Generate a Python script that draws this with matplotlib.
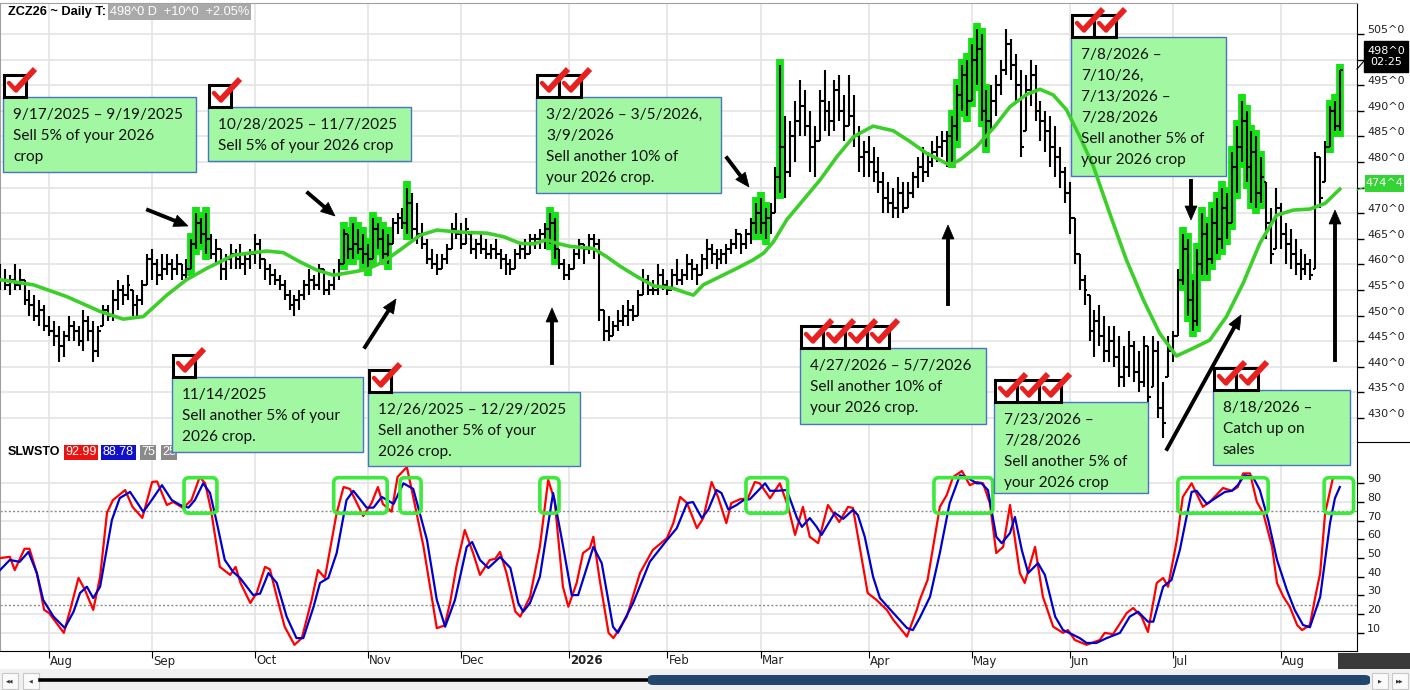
import matplotlib
matplotlib.use("Agg")
import numpy as np
import matplotlib.pyplot as plt
from matplotlib.collections import LineCollection
from matplotlib.patches import Rectangle, Polygon, FancyBboxPatch
from matplotlib.lines import Line2D
from matplotlib.transforms import blended_transform_factory, offset_copy

W, H = 1410, 690

# daily bars, Jul 18 2025 .. Aug 19 2026 (index = trading day)
highs = [460, 459, 458, 460, 459, 457, 455, 454, 453, 452,
         450, 449, 448, 447, 450, 449, 448, 451, 450, 449,
         448, 452, 452, 455, 457, 456, 458, 455, 454, 457,
         462, 463, 461, 462, 462, 461, 462, 460, 461, 465,
         470, 469, 470, 466, 465, 463, 462, 464, 463, 464,
         462, 463, 466, 465, 461, 460, 459, 458, 457, 455,
         454, 455, 457, 459, 458, 460, 459, 457, 459, 461,
         467, 466, 468, 467, 466, 464, 469, 468, 467, 466,
         469, 470, 471, 475, 474, 472, 468, 465, 463, 462,
         462, 464, 468, 470, 468, 469, 466, 465, 466, 465,
         464, 465, 463, 462, 461, 463, 464, 465, 466, 466,
         467, 468, 470, 469, 463, 461, 460, 463, 465, 464,
         466, 466, 465, 451, 450, 449, 451, 452, 453, 452,
         455, 459, 458, 457, 460, 459, 457, 459, 461, 459,
         462, 461, 460, 462, 465, 464, 463, 463, 464, 465,
         467, 466, 467, 469, 472, 473, 471, 472, 479, 499,
         489, 488, 492, 496, 494, 490, 487, 494, 498, 492,
         496, 497, 493, 497, 493, 487, 484, 485, 483, 481,
         478, 476, 475, 477, 476, 476, 478, 481, 483, 482,
         484, 485, 486, 486, 489, 495, 499, 500, 503, 506,
         505, 494, 495, 497, 500, 506, 504, 501, 498, 497,
         500, 499, 492, 490, 489, 487, 483, 479, 476, 469,
         462, 458, 454, 451, 452, 450, 448, 448, 446, 444,
         447, 445, 443, 446, 444, 446, 445, 437, 446, 447,
         459, 466, 465, 457, 463, 470, 468, 471, 473, 475,
         474, 482, 487, 492, 490, 486, 485, 481, 476, 471,
         475, 472, 468, 467, 465, 463, 462, 461, 482, 481,
         484, 491, 492, 498]
lows = [455, 455, 454, 455, 455, 452, 450, 449, 448, 447,
        446, 444, 441, 442, 445, 445, 444, 443, 445, 441,
        442, 448, 449, 449, 451, 452, 453, 450, 450, 452,
        456, 457, 456, 457, 458, 457, 458, 457, 457, 459,
        463, 464, 462, 461, 460, 457, 457, 459, 459, 459,
        458, 459, 460, 459, 457, 456, 456, 455, 453, 451,
        450, 451, 453, 454, 455, 455, 454, 454, 455, 457,
        460, 461, 461, 462, 460, 459, 461, 463, 461, 460,
        464, 466, 467, 466, 465, 464, 463, 460, 459, 458,
        459, 460, 463, 465, 463, 464, 462, 461, 462, 461,
        461, 461, 459, 458, 458, 459, 461, 461, 462, 463,
        463, 463, 464, 461, 459, 457, 457, 459, 461, 460,
        462, 461, 449, 445, 445, 446, 447, 448, 448, 449,
        450, 454, 454, 454, 454, 455, 454, 455, 456, 456,
        457, 457, 456, 458, 459, 460, 459, 460, 460, 462,
        463, 462, 463, 464, 466, 466, 465, 466, 470, 474,
        473, 477, 480, 485, 485, 478, 477, 484, 486, 485,
        486, 488, 484, 487, 483, 478, 477, 477, 476, 474,
        470, 470, 469, 469, 470, 471, 473, 475, 476, 477,
        479, 480, 481, 479, 480, 484, 490, 489, 492, 495,
        488, 483, 486, 489, 493, 497, 496, 492, 481, 486,
        491, 488, 484, 482, 479, 477, 475, 472, 466, 460,
        455, 452, 445, 442, 444, 441, 441, 440, 436, 436,
        438, 437, 435, 436, 432, 436, 430, 426, 438, 441,
        446, 456, 450, 447, 448, 458, 458, 460, 462, 463,
        465, 468, 474, 480, 476, 472, 471, 472, 465, 460,
        463, 463, 460, 459, 458, 457, 458, 457, 459, 471,
        476, 483, 486, 486]
closes = [457, 456, 457, 456, 457, 453, 452, 450, 451, 448,
          447, 446, 444, 446, 448, 447, 445, 449, 447, 443,
          447, 451, 450, 453, 455, 454, 456, 452, 453, 456,
          461, 460, 458, 459, 460, 459, 460, 458, 459, 464,
          468, 466, 465, 462, 463, 459, 461, 462, 461, 460,
          461, 462, 464, 461, 459, 458, 457, 456, 454, 452,
          453, 454, 456, 457, 456, 459, 455, 456, 458, 460,
          466, 463, 464, 463, 462, 461, 467, 465, 462, 464,
          468, 469, 468, 472, 467, 466, 464, 461, 460, 459,
          461, 463, 467, 466, 464, 467, 463, 464, 463, 462,
          463, 462, 461, 460, 459, 462, 463, 462, 465, 465,
          466, 467, 468, 463, 460, 458, 459, 462, 464, 463,
          465, 464, 451, 447, 446, 448, 449, 450, 451, 450,
          454, 457, 455, 455, 458, 456, 455, 458, 457, 458,
          460, 459, 458, 461, 463, 462, 461, 462, 463, 464,
          466, 464, 466, 468, 470, 468, 469, 470, 477, 483,
          478, 485, 488, 491, 487, 483, 484, 492, 490, 488,
          494, 490, 487, 489, 485, 481, 482, 480, 478, 476,
          473, 472, 471, 474, 471, 474, 477, 479, 478, 480,
          482, 483, 484, 485, 487, 493, 497, 492, 500, 502,
          490, 488, 492, 495, 498, 503, 499, 495, 483, 494,
          497, 490, 488, 486, 483, 481, 478, 474, 469, 462,
          457, 455, 447, 449, 446, 443, 445, 442, 438, 440,
          444, 439, 437, 444, 434, 443, 432, 429, 443, 446,
          457, 463, 453, 449, 460, 466, 461, 468, 465, 471,
          468, 479, 483, 488, 479, 482, 474, 477, 468, 462,
          471, 466, 464, 462, 460, 459, 460, 458, 481, 473,
          483, 490, 487, 498]

# bars painted green
highlight = [39, 40, 41, 42, 70, 71, 72, 73, 74, 75, 76, 77, 78, 79, 83,
             112, 113, 154, 155, 156, 159,
             194, 195, 196, 197, 198, 199, 200, 201,
             241, 242, 243, 244, 245, 246, 247, 248, 249, 250, 251, 252,
             253, 254, 255, 256, 257, 271, 272, 273]

# moving average (green line)
ma_idx = [0, 6.8, 13.6, 20.4, 25.1, 29.2, 34, 38, 42.1, 47.6,
          54.3, 57.7, 61.1, 64.5, 67.9, 71.3, 74.7, 78.1, 81.5, 85.6,
          89, 92.4, 95.8, 99.2, 102.6, 106, 108.7, 111.4, 113.5, 116.2,
          120.9, 123.6, 126.4, 129.8, 133.2, 137.2, 139.9, 141.3, 143.3, 146.7,
          150.1, 153.5, 155.6, 157.6, 160.3, 163.7, 167.1, 170.5, 173.9, 175.2,
          177.9, 182, 185.4, 188.8, 193.5, 195.6, 199, 202.4, 205.8, 209.2,
          211.9, 214.6, 217.3, 220, 222.8, 226.1, 229.5, 233, 236.3, 239.7,
          243.1, 246.5, 249.9, 253.3, 256.7, 260.1, 263.5, 266.9, 270, 273]
ma_val = [457, 456, 453.7, 450.8, 449.3, 449.8, 454, 457, 459.2, 461.8,
          462.6, 462.3, 460.5, 458.9, 457.9, 458.4, 459, 460.5, 462.8, 465.7,
          466.7, 466.4, 466.2, 466.1, 465.4, 464.1, 464, 464.8, 464.1, 463.5,
          463.1, 461.5, 459.6, 457.6, 455.8, 455.3, 454.4, 454, 456, 457.6,
          459.2, 460.9, 462.2, 464.4, 468.7, 472.6, 476.5, 481, 484.9, 485.6,
          487, 486.1, 484, 481.7, 479.4, 480.4, 483, 486.6, 490.8, 493.2,
          494.2, 493.1, 490.2, 485, 479.1, 470, 460.9, 453, 446.5, 442.1,
          443.6, 445.2, 449.8, 456.3, 464.1, 469.6, 470.6, 470.8, 471.9, 474.7]

# slow stochastic, %K (red) and %D (blue)
k_idx = [0, 2, 3, 5, 6, 7.5, 9, 10, 11.5, 13, 14.3, 16, 17.3, 19, 20.4, 21.8, 23, 25.5, 27, 29,
         31, 32, 34, 35.3, 37.3, 39, 40.7, 41.8, 43, 44.8, 46.9, 48, 49, 51, 52.3, 54, 55, 56.4, 58, 60,
         61.5, 63.5, 64.8, 66.2, 68.6, 70, 71.3, 74, 75.7, 77, 78, 79.8, 81, 82.9, 84.2, 86.3, 89, 90.6,
         91.7, 93, 94.7, 96.4, 97.8, 99.8, 100.9, 101.9, 103.2, 105, 106, 108, 110, 111.7, 113, 114.7,
         115.8, 117.5, 118.8, 120.2, 120.9, 122.2, 124, 125, 127.7, 130.4, 133, 135.9, 137.2, 138.6,
         140, 142, 143.3, 145, 146.3, 148, 149, 150.8, 152.4, 153.8, 154.8, 156.9, 158.9, 160.6, 162,
         163.6, 165, 166.7, 168.7, 171, 172.8, 173.8, 176.8, 178.6, 180.7, 182, 184.8, 186.8, 187.4,
         189, 191.5, 192.9, 194.2, 196, 197.6, 199, 200.3, 201.7, 203, 204.4, 205.8, 207.8, 208.8,
         210.9, 212.5, 214.6, 216.6, 217.6, 219, 221.4, 224.1, 225.1, 226.8, 229.6, 230.9, 232.6,
         233.9, 235.7, 237, 238, 239.8, 241, 242.8, 245.1, 246.5, 249.2, 251, 252.2, 253.3, 254.7,
         256.1, 257.4, 259.2, 260.2, 261.5, 262.8, 264.3, 265.3, 266.9, 268, 269, 270, 271.6, 272.6]
k_val = [50, 50.7, 43.6, 55, 55, 42, 22.3, 20.6, 15.3, 10, 22.3, 39.4, 33, 22.3, 40, 74.2, 81, 86.4, 77.4, 71.5,
         90.7, 91, 78.4, 80, 76.8, 81, 93.4, 90, 75.7, 45.3, 41, 45.3, 36.7, 26, 31.3, 45.3, 44, 29.3, 13.3, 3.6,
         7.2, 27.6, 43.6, 39.4, 74.1, 88, 87, 72.5, 79.4, 88, 79, 74.8, 93.4, 98.7, 82.7, 56, 12.5, 14,
         26, 45.4, 65, 52.7, 41, 49, 49.6, 53.3, 42, 21.4, 18.7, 29.3, 56, 91.8, 81, 34.7,
         24, 36.7, 52.7, 55.4, 61.4, 38.3, 10, 7.2, 18.6, 42, 54.3, 60.7, 68.7, 82.7,
         79.4, 66, 71.4, 90.7, 82.7, 68.7, 79.4, 81.5, 82, 90.7, 90, 82, 90, 77.4, 62.4,
         77.4, 61.4, 58, 78.4, 69.3, 77.4, 76.8, 31.3, 27.6, 22.3, 17, 8, 22.3, 27.6,
         38.3, 77.4, 83.7, 93.4, 96.6, 89, 90.7, 90, 79.4, 52.7, 56, 78.4, 42, 36.7,
         56, 29.3, 13.3, 10, 11.5, 6.2, 3.6, 6.2, 10, 9.3, 20.7, 23.3, 18.7,
         10.5, 36.7, 39.4, 34.7, 59.7, 82.7, 90, 77.4, 80, 87.5, 86, 88, 95.3, 95.3,
         80, 74, 56, 36.7, 29.3, 24, 14.2, 11.5, 14.2, 29.3, 42, 74, 92.9, 93]
d_idx = [0, 2, 4, 5.8, 7.5, 8.8, 10.9, 13.2, 15, 16.3, 17.7, 19, 20.4, 22.8, 24.4, 26.5, 29.2, 30.9, 33, 35,
         36.7, 38.4, 39.7, 41.4, 42.8, 44.2, 45.8, 47.5, 48.9, 51.6, 53, 54.7, 56.4, 58.4, 60.4, 61.8, 63.9,
         65.2, 66.9, 68.6, 70.6, 72, 74.7, 76.1, 77.8, 80.2, 82.2, 84.2, 87, 89, 90.7, 92.7, 95.1, 96.2,
         97.8, 99.5, 101.9, 104, 105.6, 106.6, 108, 110, 112.7, 114.5, 116.5, 117.8, 120.9, 122.6, 124.9,
         125.9, 129, 132.4, 135.9, 137.9, 140, 141.2, 143, 144.3, 146, 147, 148.4, 150.1, 151.5, 152.8,
         155.9, 156.9, 158.3, 160.3, 162.4, 163.4, 165, 166.4, 167.4, 170.1, 171.8, 173.8, 174.8, 176.2,
         177.9, 179.3, 182, 184.8, 186, 187.4, 189.5, 191.5, 193.5, 195.6, 196.9, 199, 200, 201.3, 203,
         204.1, 205.8, 206.8, 208.2, 209.5, 211.5, 212.9, 215, 216.6, 218, 220, 221.4, 223.4, 225.5,
         228.2, 230.2, 231.9, 233.9, 235, 237, 238.7, 240.4, 242.8, 243.8, 245.9, 248, 249.6, 251,
         252.2, 253.6, 255.3, 256.7, 258.4, 260.2, 262.2, 263.8, 265.5, 266.9, 269, 271, 272, 273]
d_val = [43.6, 49, 48, 53.3, 42, 27.6, 18.7, 12.6, 21.4, 31.3, 34.7, 28.6, 34.7, 70.4, 82.1, 85.4, 74.7, 81, 89, 81,
         78.4, 77, 81, 90, 84.8, 68.7, 49, 42.6, 39.4, 30.2, 31, 42, 36.7, 18.7, 7.2, 7.2, 24,
         36.7, 39.4, 52.7, 81, 86, 77, 77, 82.7, 79, 90, 87, 59.7, 27.6, 13.3, 27.6, 56, 58.6,
         49, 44.7, 50.6, 44.7, 26, 21.3, 26, 40, 84.8, 59.7, 30.2, 30.2, 56, 47.3, 13.3,
         10, 26, 48, 59.7, 66, 79.4, 80, 71.4, 75.8, 86.4, 84.8, 76, 78.4, 81, 81.5,
         90, 86, 86, 86.4, 71.4, 66.7, 71.4, 66.7, 62.4, 74.2, 71, 75.8, 73, 61.4,
         40, 28.6, 20.7, 12.6, 11.5, 18, 29.3, 52.7, 79.4, 94.3, 93.4, 90, 90, 86.4, 61.4,
         58, 63.4, 72, 54.3, 42, 47.3, 41, 18.7, 11.5, 9.8, 7.2, 4.6, 4.6, 7.2,
         10, 18.7, 21.3, 16, 16, 34.7, 38.3, 54.3, 85.4, 86, 79, 82.7, 85.4, 86,
         89, 94.3, 93.4, 86.4, 70.4, 49, 33, 22.3, 14.2, 13, 29.3, 68.7, 82, 88]

month_idx = [10, 31, 52, 75, 94, 116, 136, 155, 177, 198, 218, 239, 261]
month_lbl = ['Aug', 'Sep', 'Oct', 'Nov', 'Dec', '2026', 'Feb', 'Mar', 'Apr', 'May', 'Jun', 'Jul', 'Aug']
price_ticks = list(range(430, 510, 5))
stoch_ticks = list(range(10, 100, 10))

# overbought zones circled in the stochastic panel
ob_start = [37.5, 68, 81.5, 110, 152, 190.3, 240, 269.8]
ob_end = [44.2, 78.9, 85.8, 113.9, 160.5, 202.3, 258.4, 275.8]
ob_lo, ob_hi = 74, 93

# note boxes: left, top, right, bottom (pixels), number of check marks, text
notes = [
    (3, 97, 196, 172, 1, '9/17/2025 – 9/19/2025\nSell 5% of your 2026\ncrop'),
    (208, 107, 411, 161, 1, '10/28/2025 – 11/7/2025\nSell 5% of your 2026 crop'),
    (536, 97, 721, 193, 2, '3/2/2026 – 3/5/2026,\n3/9/2026\nSell another 10% of\nyour 2026 crop.'),
    (172, 377, 363, 452, 1, '11/14/2025\nSell another 5% of your\n2026 crop.'),
    (368, 392, 580, 466, 1, '12/26/2025 – 12/29/2025\nSell another 5% of your\n2026 crop.'),
    (800, 348, 986, 424, 4, '4/27/2026 – 5/7/2026\nSell another 10% of\nyour 2026 crop.'),
    (994, 402, 1148, 493, 3, '7/23/2026 –\n7/28/2026\nSell another 5% of\nyour 2026 crop'),
    (1071, 37, 1226, 176, 2, '7/8/2026 –\n7/10/26,\n7/13/2026 –\n7/28/2026\nSell another 5% of\nyour 2026 crop'),
    (1213, 390, 1350, 465, 2, '8/18/2026 –\nCatch up on\nsales'),
]
# arrows: tail x, tail y, tip x, tip y (pixels)
arrows = [(148, 210, 188, 226), (308, 193, 335, 216), (365, 347, 396, 299),
          (552, 363, 552, 308), (727, 158, 749, 187), (948, 304, 948, 225),
          (1191, 181, 1191, 220), (1167, 449, 1241, 315), (1335, 360, 1335, 210)]


def fx(x):
    return x / W


def fy(y):
    return 1 - y / H


fig = plt.figure(figsize=(W / 100, H / 100), dpi=100)
fig.patch.set_facecolor('white')
ax = fig.add_axes([0, fy(442), 1357 / W, 439 / H])
ax2 = fig.add_axes([0, fy(651), 1357 / W, 209 / H])

for a in (ax, ax2):
    a.set_xlim(0, 276.5)
    a.set_facecolor('white')
    a.set_axisbelow(True)
    a.grid(True, color='#e4e4e4', lw=1.2)
    a.set_xticks(month_idx)
    a.yaxis.tick_right()
    a.tick_params(axis='y', length=5, width=1, labelright=False)
    a.spines['left'].set_color('#a0a0a0')
    a.spines['right'].set_color('black')
ax.set_ylim(425.3, 511.05)
ax.set_yticks(price_ticks)
ax.tick_params(axis='x', length=0, labelbottom=False)
ax.spines['bottom'].set_visible(False)
ax.spines['top'].set_color('#a0a0a0')
ax2.set_ylim(0.3, 112.1)
ax2.set_yticks(stoch_ticks)
ax2.tick_params(axis='x', length=5, labelbottom=False)
ax2.spines['top'].set_visible(False)
fig.add_artist(Line2D([fx(1357), 1], [fy(442), fy(442)], transform=fig.transFigure, color='black', lw=0.8))

# price bars
opens = np.clip([closes[0]] + closes[:-1], lows, highs)
segs = []
for i in range(len(closes)):
    segs.append([(i, lows[i]), (i, highs[i])])
    segs.append([(i - 0.55, opens[i]), (i, opens[i])])
    segs.append([(i, closes[i]), (i + 0.55, closes[i])])
for i in highlight:
    ax.vlines(i, lows[i] - 1.2, highs[i] + 1.2, color='#14e214', lw=5.6, zorder=2)
ax.add_collection(LineCollection(segs, colors='black', linewidths=1.5, zorder=3))
ax.plot(ma_idx, ma_val, color='#3ccf2a', lw=2.6, zorder=4, solid_joinstyle='round')

# stochastic
ax2.axhline(75, color='#8c8c8c', ls=(0, (1.5, 1.5)), lw=1, zorder=1)
ax2.axhline(25, color='#8c8c8c', ls=(0, (1.5, 1.5)), lw=1, zorder=1)
ax2.plot(k_idx, k_val, color='#ff0000', lw=1.6, zorder=3)
ax2.plot(d_idx, d_val, color='#0000cc', lw=1.6, zorder=4)
asp = (1357 / 276.5) / (209 / 111.8)
for s, e in zip(ob_start, ob_end):
    ax2.add_patch(FancyBboxPatch((s, ob_lo), e - s, ob_hi - ob_lo,
                                 boxstyle='round,pad=0,rounding_size=1.0',
                                 mutation_aspect=asp, fc='none', ec='#3bea3b',
                                 lw=2.6, zorder=5, clip_on=False))

# right axis labels (sit a little above their grid line); 500 is hidden by the price flag
lab_tr = offset_copy(blended_transform_factory(ax.transAxes, ax.transData), fig=fig, y=4, units='dots')
for v in price_ticks:
    if v == 500:
        continue
    ax.text(1367 / 1357, v, f'{v}^0', transform=lab_tr, fontsize=8, va='center', ha='left',
            color='#222222', clip_on=False)
lab_tr2 = offset_copy(blended_transform_factory(ax2.transAxes, ax2.transData), fig=fig, y=4, units='dots')
for v in stoch_ticks:
    ax2.text(1367 / 1357, v, f'{v}', transform=lab_tr2, fontsize=8, va='center', ha='left',
             color='#222222', clip_on=False)

# month labels
mt = blended_transform_factory(ax2.transData, fig.transFigure)
for m, lab in zip(month_idx, month_lbl):
    ax2.text(m + 0.2, fy(661), lab, transform=mt, fontsize=8.5, ha='left', va='center',
             fontweight='bold' if lab == '2026' else 'normal', color='#222222', clip_on=False)

# headers
hf = 'Liberation Sans'
fig.text(fx(8), fy(12), 'ZCZ26 ~ Daily T:', fontsize=9.2, fontweight='bold', va='center', family=hf)
fig.text(fx(110), fy(12), '498^0 D  +10^0  +2.05%', fontsize=9.2, color='white', va='center', family=hf,
         bbox=dict(boxstyle='square,pad=0.12', fc='#a9a9a9', ec='none'))
fig.text(fx(8), fy(452), 'SLWSTO', fontsize=9, fontweight='bold', va='center', family=hf)
for x, t, c in [(65, '92.99', '#ee1111'), (103, '88.78', '#1111cc'), (141, '75', '#8a8a8a'),
                (162, '25', '#8a8a8a')]:
    fig.text(fx(x), fy(452), t, fontsize=9, color='white', va='center', family=hf,
             bbox=dict(boxstyle='square,pad=0.12', fc=c, ec='none'))

# last price and average flags
fig.add_artist(Rectangle((fx(1364), fy(72)), 44 / W, 31 / H, transform=fig.transFigure,
                         fc='black', ec='black', zorder=6))
fig.text(fx(1386), fy(56.5), '498^0\n02:25', fontsize=8, color='white', ha='center', va='center',
         linespacing=1.05, zorder=7)
fig.add_artist(Line2D([fx(1357), fx(1364)], [fy(69), fy(61)], transform=fig.transFigure, color='black', lw=0.8))
fig.add_artist(Rectangle((fx(1365), fy(192)), 39 / W, 17 / H, transform=fig.transFigure,
                         fc='#33d433', ec='none', zorder=6))
fig.text(fx(1384.5), fy(183.5), '474^4', fontsize=8, color='white', ha='center', va='center', zorder=7)
fig.add_artist(Line2D([fx(1357), fx(1365)], [fy(190), fy(187)], transform=fig.transFigure, color='#33d433', lw=0.8))

# note boxes with check marks
for x0, y0, x1, y1, nchk, text in notes:
    box = Rectangle((fx(x0), fy(y1)), (x1 - x0) / W, (y1 - y0) / H, transform=fig.transFigure,
                    fc='#a2f7a2', ec='#4a72c8', lw=1, clip_on=False)
    if y1 <= 442:
        box.set_zorder(1)
        ax.add_patch(box)      # sits under the price bars
    else:
        box.set_zorder(7)
        fig.add_artist(box)    # spans both panels
    for k, line in enumerate(text.split('\n')):
        fig.text(fx(x0 + 10), fy(y0 + 22 + 21 * k), line, fontsize=11.1, family='Lato',
                 va='baseline', ha='left', color='#111111', zorder=8)
    for k in range(nchk):
        bx, by = x0 + 1 + 22 * k, y0 - 22
        fig.add_artist(Rectangle((fx(bx), fy(by + 22)), 22 / W, 22 / H, transform=fig.transFigure,
                                 fc='white', ec='black', lw=2.2, zorder=9))
        fig.add_artist(Line2D([fx(bx + 5), fx(bx + 12)], [fy(by + 8), fy(by + 15.5)],
                              transform=fig.transFigure, color='#e82020', lw=3.2, zorder=10,
                              solid_capstyle='round'))
        fig.add_artist(Line2D([fx(bx + 11), fx(bx + 31)], [fy(by + 15.5), fy(by - 6)],
                              transform=fig.transFigure, color='#e82020', lw=4.2, zorder=10,
                              solid_capstyle='butt'))

# arrows
for x0, y0, x1, y1 in arrows:
    d = np.array([x1 - x0, y1 - y0], float)
    d /= np.hypot(*d)
    p = np.array([-d[1], d[0]])
    base = np.array([x1, y1]) - d * 14
    fig.add_artist(Line2D([fx(x0), fx(base[0])], [fy(y0), fy(base[1])], transform=fig.transFigure,
                          color='black', lw=2.8, zorder=9))
    tri = [(x1, y1), tuple(base + p * 6), tuple(base - p * 6)]
    fig.add_artist(Polygon([(fx(a), fy(b)) for a, b in tri], closed=True, transform=fig.transFigure,
                           fc='black', ec='black', lw=0.5, zorder=9))

# scroll bar strip
fig.add_artist(Rectangle((0, 0), 1, 21 / H, transform=fig.transFigure, fc='#f0f0f0', ec='none', zorder=0))
fig.add_artist(Rectangle((fx(1338), fy(669)), 72 / W, 16 / H, transform=fig.transFigure,
                         fc='#3a3a3a', ec='none', zorder=1))
for x, t in [(2, '◀◀'), (23, '◀'), (1372, '▶'), (1392, '▶▶')]:
    fig.add_artist(Rectangle((fx(x), fy(689)), 16 / W, 16 / H, transform=fig.transFigure,
                             fc='#fafafa', ec='#c8c8c8', lw=0.8, zorder=2))
    fig.text(fx(x + 8), fy(681), t, fontsize=3.5, ha='center', va='center', color='#333333', zorder=3)
fig.add_artist(Line2D([fx(40), fx(650)], [fy(679.5), fy(679.5)], transform=fig.transFigure,
                      color='black', lw=2.6, zorder=2))
fig.add_artist(FancyBboxPatch((fx(648), fy(685)), 722 / W, 10 / H, transform=fig.transFigure,
                              boxstyle='round,pad=0,rounding_size=0.004', fc='#22466d', ec='none', zorder=3))

fig.savefig('out.png', dpi=100)
